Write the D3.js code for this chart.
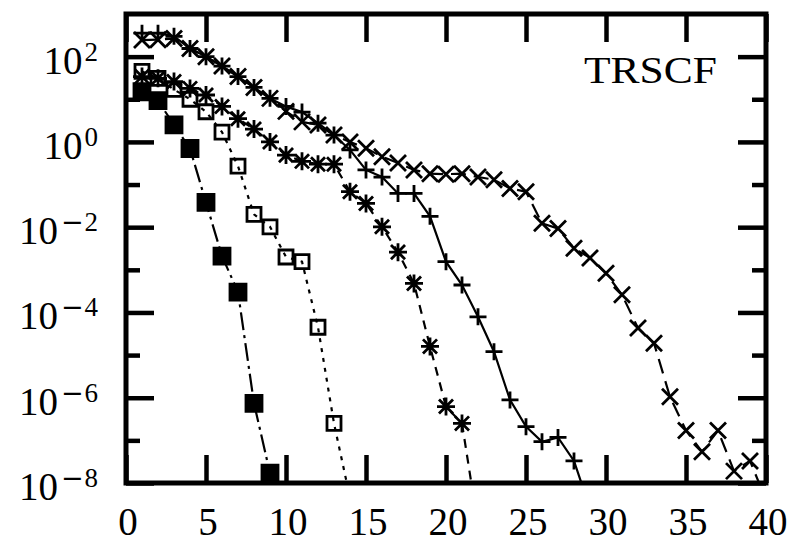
<!DOCTYPE html>
<html>
<head>
<meta charset="utf-8">
<script src="https://cdn.jsdelivr.net/npm/d3@7"></script>
<style>
html,body{margin:0;padding:0;background:#fff;}
svg{display:block;}
.tick line{stroke:#000;stroke-width:4.5px;}
</style>
</head>
<body>
<svg id="chart" width="793" height="544"></svg>
<script>
// ---- data (iteration index -> error value) ----
const filledSquares = [15, 9.3, 2.5, 0.7, 0.038, 2.1e-3, 3.0e-4, 7.4e-7, 1.7e-8];
const openSquares = [45, 31, 17, 10, 5.1, 1.7, 0.27, 0.020, 0.0102, 2.0e-3, 1.55e-3, 4.5e-5, 2.5e-7, 4.5e-9];
const stars = [34, 31, 26, 18, 12.6, 6.8, 3.5, 2.0, 1.0, 0.49, 0.35, 0.30, 0.30, 0.068, 0.036, 0.0102,
  2.6e-3, 4.8e-4, 1.6e-5, 6.2e-7, 2.5e-7, 1e-9];
const pluses = [355, 355, 300, 155, 100, 60, 34, 19, 10.5, 6.8, 5.0, 2.75, 1.45, 0.65, 0.22, 0.15, 0.062, 0.062,
  0.018, 1.55e-3, 4.4e-4, 7.9e-5, 1.2e-5, 8.9e-7, 2.1e-7, 9.3e-8, 1.17e-7, 3.3e-8, 2.5e-9];
const crosses = [245, 250, 265, 155, 100, 60, 34, 19, 10.5, 5.2, 2.95, 2.5, 1.45, 1.0, 0.71, 0.45, 0.32, 0.22,
  0.18, 0.175, 0.18, 0.15, 0.13, 0.081, 0.068, 0.0123, 9.3e-3, 3.2e-3, 1.9e-3, 8.3e-4, 2.6e-4, 4.3e-5, 1.9e-5,
  1.05e-6, 1.7e-7, 5.4e-8, 1.7e-7, 1.9e-8, 3.3e-8, 4e-9];
const xTicks = [0, 5, 10, 15, 20, 25, 30, 35, 40];
const yMajorExp = [-8, -6, -4, -2, 0, 2];
const yMinorExp = [-7, -5, -3, -1, 1];
const label = "TRSCF";

// ---- layout ----
const L = 126, R = 766, T = 14, B = 483;
const svg = d3.select("#chart");
const font = "'Liberation Serif', 'Times New Roman', serif";

const x = d3.scaleLinear().domain([0, 40]).range([L, R]);
const y = d3.scaleLog().domain([1e-8, 1e3]).range([B, T]);

svg.append("defs").append("clipPath").attr("id", "clip")
  .append("rect").attr("x", L).attr("y", T).attr("width", R - L).attr("height", B - T);

// ---- ticks through d3 axes ----
function styleAxis(g) {
  g.select(".domain").remove();
  g.selectAll("text").remove();
  g.selectAll("line").attr("stroke", "#000").style("stroke-width", "4.5px");
}
svg.append("g").attr("transform", `translate(0,${B})`)
  .call(d3.axisBottom(x).tickValues(xTicks).tickSizeInner(-28).tickSizeOuter(0)).call(styleAxis);
svg.append("g").attr("transform", `translate(0,${T})`)
  .call(d3.axisTop(x).tickValues(xTicks).tickSizeInner(-28).tickSizeOuter(0)).call(styleAxis);
const majV = yMajorExp.map(e => Math.pow(10, e));
const minV = yMinorExp.map(e => Math.pow(10, e));
svg.append("g").attr("transform", `translate(${L},0)`)
  .call(d3.axisLeft(y).tickValues(majV).tickSizeInner(-28).tickSizeOuter(0)).call(styleAxis);
svg.append("g").attr("transform", `translate(${L},0)`)
  .call(d3.axisLeft(y).tickValues(minV).tickSizeInner(-14).tickSizeOuter(0)).call(styleAxis);
svg.append("g").attr("transform", `translate(${R},0)`)
  .call(d3.axisRight(y).tickValues(majV).tickSizeInner(-28).tickSizeOuter(0)).call(styleAxis);
svg.append("g").attr("transform", `translate(${R},0)`)
  .call(d3.axisRight(y).tickValues(minV).tickSizeInner(-14).tickSizeOuter(0)).call(styleAxis);

// ---- tick labels ----
svg.append("g").selectAll("text").data(xTicks).join("text")
  .attr("x", d => x(d) + 2).attr("y", 535)
  .attr("text-anchor", "middle")
  .attr("font-family", font).attr("font-size", 39)
  .text(d => d);

const yl = svg.append("g");
yMajorExp.forEach(e => {
  const t = yl.append("text")
    .attr("x", 98).attr("y", y(Math.pow(10, e)) + 17)
    .attr("text-anchor", "end")
    .attr("font-family", font).attr("font-size", 39);
  t.append("tspan").text("10");
  if (e < 0) {
    t.append("tspan").attr("dy", -13).attr("dx", 3).attr("font-size", 27)
      .attr("font-family", "'DejaVu Sans', sans-serif").text("\u2212");
    t.append("tspan").attr("dx", 1).attr("font-size", 27).text(String(-e));
  } else {
    t.append("tspan").attr("dy", -13).attr("dx", 2).attr("font-size", 27).text(String(e));
  }
});

// ---- series ----
function markerPath(type, s) {
  switch (type) {
    case "plus": return `M${-s},0H${s}M0,${-s}V${s}`;
    case "cross": return `M${-s},${-s}L${s},${s}M${-s},${s}L${s},${-s}`;
    case "star": { const c = s * 0.78; return `M${-s},0H${s}M0,${-s}V${s}M${-c},${-c}L${c},${c}M${-c},${c}L${c},${-c}`; }
    case "square": return `M${-s},${-s}H${s}V${s}H${-s}Z`;
  }
}
const series = [
  { data: crosses, marker: "cross", size: 8, dash: "15,8", fill: "none" },
  { data: pluses, marker: "plus", size: 8.5, dash: null, fill: "none" },
  { data: stars, marker: "star", size: 9, dash: "9,7", fill: "none" },
  { data: openSquares, marker: "square", size: 7, dash: "4,6", fill: "none" },
  { data: filledSquares, marker: "square", size: 8, dash: "18,5,3,5", fill: "#000" }
];
const plot = svg.append("g").attr("clip-path", "url(#clip)");
const line = d3.line().x((d, i) => x(i + 1)).y(d => y(d));
series.forEach(s => {
  plot.append("path").datum(s.data)
    .attr("d", line).attr("fill", "none").attr("stroke", "#000")
    .attr("stroke-width", 2.2).attr("stroke-dasharray", s.dash);
  plot.append("g").selectAll("path").data(s.data).join("path")
    .attr("transform", (d, i) => `translate(${x(i + 1)},${y(d)})`)
    .attr("d", markerPath(s.marker, s.size))
    .attr("fill", s.fill).attr("stroke", "#000").attr("stroke-width", 2.8);
});

// ---- frame ----
svg.append("rect").attr("x", L).attr("y", T).attr("width", R - L).attr("height", B - T)
  .attr("fill", "none").attr("stroke", "#000").style("stroke-width", "5px");

// ---- label ----
svg.append("text").attr("x", 717).attr("y", 83).attr("text-anchor", "end")
  .attr("font-family", font).attr("font-size", 38)
  .attr("textLength", 133).attr("lengthAdjust", "spacingAndGlyphs")
  .text(label);
</script>
</body>
</html>
